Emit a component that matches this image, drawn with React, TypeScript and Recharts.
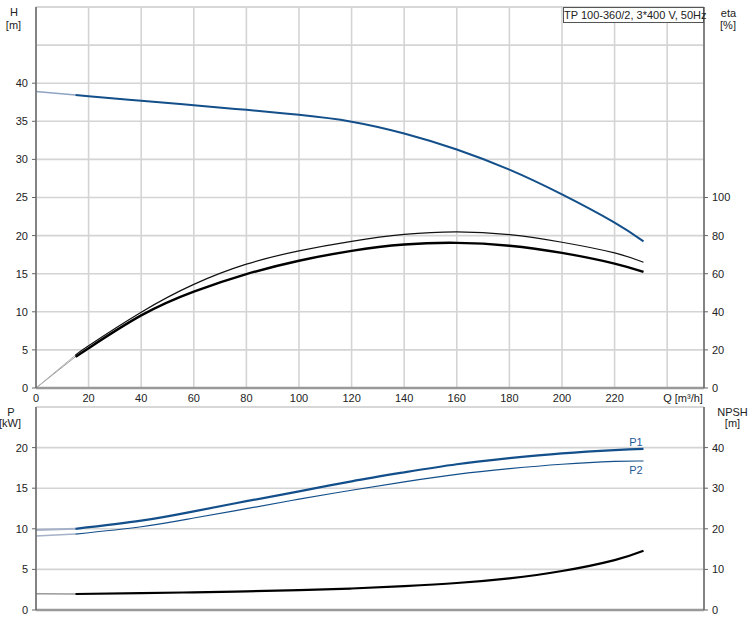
import React from "react";
import { LineChart, Line, XAxis, YAxis, CartesianGrid, ReferenceLine } from "recharts";

// ---- data ----
const Q_TICKS = [0, 20, 40, 60, 80, 100, 120, 140, 160, 180, 200, 220, 240];
const H_TICKS = [0, 5, 10, 15, 20, 25, 30, 35, 40];
const ETA_TICKS = [0, 20, 40, 60, 80, 100];
const P_TICKS = [0, 5, 10, 15, 20];
const NPSH_TICKS = [0, 10, 20, 30, 40];

const Q_TOP = [15, 20, 40, 60, 80, 100, 120, 140, 160, 180, 200, 220, 231];
const H_VALUES = [38.45, 38.3, 37.7, 37.1, 36.5, 35.85, 34.95, 33.4, 31.3, 28.65, 25.4, 21.7, 19.25];
const ETA_THICK = [16.4, 20.9, 38.1, 50.6, 59.8, 66.8, 72.0, 75.3, 76.2, 74.7, 70.9, 65.3, 60.9];
const ETA_THIN = [17.3, 22.2, 39.8, 54.4, 65.0, 72.0, 77.0, 80.6, 82.0, 80.5, 76.5, 70.9, 66.0];

const Q_START = [0, 15];
const H_START = [38.9, 38.45];
const ETA_THICK_START = [0, 16.4];
const ETA_THIN_START = [0, 17.3];

const Q_BOTTOM = [15, 40, 60, 80, 100, 120, 140, 160, 180, 200, 220, 231];
const P1_VALUES = [10.0, 11.0, 12.15, 13.4, 14.6, 15.85, 16.95, 17.95, 18.7, 19.3, 19.7, 19.85];
const P2_VALUES = [9.35, 10.25, 11.33, 12.48, 13.65, 14.75, 15.78, 16.7, 17.4, 17.95, 18.3, 18.35];
const NPSH_VALUES = [3.94, 4.15, 4.35, 4.6, 4.9, 5.3, 5.9, 6.65, 7.8, 9.6, 12.3, 14.6];

const P1_START = [9.84, 10.0];
const P2_START = [9.1, 9.35];
const NPSH_START = [4.0, 3.94];

const TITLE = "TP 100-360/2, 3*400 V, 50Hz";

// ---- tables ----
const topRows = Q_TOP.map((q, i) => ({ q, h: H_VALUES[i], e1: ETA_THICK[i], e2: ETA_THIN[i] }));
const topStart = Q_START.map((q, i) => ({ q, h: H_START[i], e1: ETA_THICK_START[i], e2: ETA_THIN_START[i] }));
const botRows = Q_BOTTOM.map((q, i) => ({ q, p1: P1_VALUES[i], p2: P2_VALUES[i], n: NPSH_VALUES[i] }));
const botStart = Q_START.map((q, i) => ({ q, p1: P1_START[i], p2: P2_START[i], n: NPSH_START[i] }));

const FONT = "'Liberation Sans', Arial, sans-serif";
const GRID = "#d4d4d4";
const AXIS = "#666";
const BLUE = "#134f8a";
const TEXT = "#222";

const tickStyle = { fontSize: 11, fill: TEXT, fontFamily: FONT };

const XTick = (props: any) => {
  const { x, y, payload } = props;
  const v = payload.value;
  const isQ = v === 240;
  return (
    <text x={isQ ? x - 4 : x} y={y} dy={6} textAnchor={isQ ? "start" : "middle"} fontSize={11} fill={TEXT} fontFamily={FONT}>
      {isQ ? "Q [m³/h]" : String(v)}
    </text>
  );
};

const Lbl = ({ x, y, children, color }: { x: number; y: number; children: React.ReactNode; color?: string }) => (
  <div
    style={{
      position: "absolute",
      left: x,
      top: y,
      transform: "translate(-50%, -50%)",
      fontFamily: FONT,
      fontSize: 11,
      color: color || TEXT,
      whiteSpace: "nowrap",
      lineHeight: "12px",
    }}
  >
    {children}
  </div>
);

export default function App() {
  return (
    <div style={{ position: "absolute", left: 0, top: 0, width: 751, height: 625, background: "#fff", overflow: "hidden" }}>
      <div style={{ position: "absolute", left: 0, top: 0 }}>
        <LineChart width={751} height={410} data={topRows} margin={{ top: 7, right: 0, bottom: 0, left: 0 }}>
          <CartesianGrid yAxisId="left" stroke={GRID} strokeWidth={1.6} />
          <XAxis
            dataKey="q"
            type="number"
            domain={[0, 254]}
            ticks={Q_TICKS}
            allowDataOverflow
            height={22}
            axisLine={{ stroke: "#999", strokeWidth: 2.5 }}
            tickLine={false}
            tick={<XTick />}
            interval={0}
          />
          <YAxis
            yAxisId="left"
            type="number"
            domain={[0, 50]}
            ticks={H_TICKS}
            width={36}
            axisLine={{ stroke: AXIS, strokeWidth: 1.5 }}
            tickLine={{ stroke: AXIS }}
            tickSize={4}
            tickMargin={4}
            tick={tickStyle}
            interval={0}
          />
          <YAxis
            yAxisId="right"
            orientation="right"
            type="number"
            domain={[0, 200]}
            ticks={ETA_TICKS}
            width={47}
            axisLine={{ stroke: AXIS, strokeWidth: 1.5 }}
            tickLine={{ stroke: AXIS }}
            tickSize={4}
            tickMargin={4}
            tick={tickStyle}
            interval={0}
          />
          <ReferenceLine yAxisId="left" y={45} stroke={GRID} strokeWidth={1.6} />
          <ReferenceLine yAxisId="left" y={50} stroke={GRID} strokeWidth={1.6} />
          <Line data={topStart} dataKey="h" yAxisId="left" stroke="#8fa3c2" strokeWidth={1.5} dot={false} isAnimationActive={false} />
          <Line data={topStart} dataKey="e1" yAxisId="right" stroke="#9a9a9a" strokeWidth={1} dot={false} isAnimationActive={false} />
          <Line data={topStart} dataKey="e2" yAxisId="right" stroke="#b0b0b0" strokeWidth={1} dot={false} isAnimationActive={false} />
          <Line data={topRows} dataKey="h" yAxisId="left" type="natural" stroke={BLUE} strokeWidth={2} dot={false} isAnimationActive={false} />
          <Line data={topRows} dataKey="e2" yAxisId="right" type="natural" stroke="#111" strokeWidth={1.2} dot={false} isAnimationActive={false} />
          <Line data={topRows} dataKey="e1" yAxisId="right" type="natural" stroke="#000" strokeWidth={2.4} dot={false} isAnimationActive={false} />
        </LineChart>
      </div>

      <div style={{ position: "absolute", left: 0, top: 400 }}>
        <LineChart width={751} height={225} data={botRows} margin={{ top: 7, right: 0, bottom: 0, left: 0 }}>
          <CartesianGrid yAxisId="left" stroke={GRID} strokeWidth={1.6} />
          <XAxis
            dataKey="q"
            type="number"
            domain={[0, 254]}
            ticks={Q_TICKS}
            allowDataOverflow
            height={15}
            axisLine={{ stroke: "#999", strokeWidth: 2.5 }}
            tickLine={false}
            tick={false}
            interval={0}
          />
          <YAxis
            yAxisId="left"
            type="number"
            domain={[0, 25]}
            ticks={P_TICKS}
            width={36}
            axisLine={{ stroke: AXIS, strokeWidth: 1.5 }}
            tickLine={{ stroke: AXIS }}
            tickSize={4}
            tickMargin={4}
            tick={tickStyle}
            interval={0}
          />
          <YAxis
            yAxisId="right"
            orientation="right"
            type="number"
            domain={[0, 50]}
            ticks={NPSH_TICKS}
            width={47}
            axisLine={{ stroke: AXIS, strokeWidth: 1.5 }}
            tickLine={{ stroke: AXIS }}
            tickSize={4}
            tickMargin={4}
            tick={tickStyle}
            interval={0}
          />
          <ReferenceLine yAxisId="left" y={25} stroke={GRID} strokeWidth={1.6} />
          <Line data={botStart} dataKey="p1" yAxisId="left" stroke="#a4b1c8" strokeWidth={2} dot={false} isAnimationActive={false} />
          <Line data={botStart} dataKey="p2" yAxisId="left" stroke="#a4b1c8" strokeWidth={1.5} dot={false} isAnimationActive={false} />
          <Line data={botStart} dataKey="n" yAxisId="right" stroke="#9a9a9a" strokeWidth={1.5} dot={false} isAnimationActive={false} />
          <Line data={botRows} dataKey="p1" yAxisId="left" type="natural" stroke={BLUE} strokeWidth={2.2} dot={false} isAnimationActive={false} />
          <Line data={botRows} dataKey="p2" yAxisId="left" type="natural" stroke={BLUE} strokeWidth={1.2} dot={false} isAnimationActive={false} />
          <Line data={botRows} dataKey="n" yAxisId="right" type="natural" stroke="#000" strokeWidth={2.2} dot={false} isAnimationActive={false} />
        </LineChart>
      </div>

      <Lbl x={14} y={12}>H</Lbl>
      <Lbl x={13.5} y={24.5}>[m]</Lbl>
      <Lbl x={728.5} y={12.5}>eta</Lbl>
      <Lbl x={728} y={25}>[%]</Lbl>
      <Lbl x={11} y={411.5}>P</Lbl>
      <Lbl x={10} y={423}>[kW]</Lbl>
      <Lbl x={732.5} y={412}>NPSH</Lbl>
      <Lbl x={732.5} y={423}>[m]</Lbl>
      <Lbl x={636} y={442} color="#1f5a99">P1</Lbl>
      <Lbl x={636} y={469.5} color="#1f5a99">P2</Lbl>

      <div
        style={{
          position: "absolute",
          left: 563,
          top: 7,
          width: 141,
          height: 16,
          boxSizing: "border-box",
          border: "1px solid #555",
          background: "#fff",
          fontFamily: FONT,
          fontSize: 11,
          color: TEXT,
          lineHeight: "14px",
          textAlign: "center",
          whiteSpace: "nowrap",
        }}
      >
        {TITLE}
      </div>
    </div>
  );
}
